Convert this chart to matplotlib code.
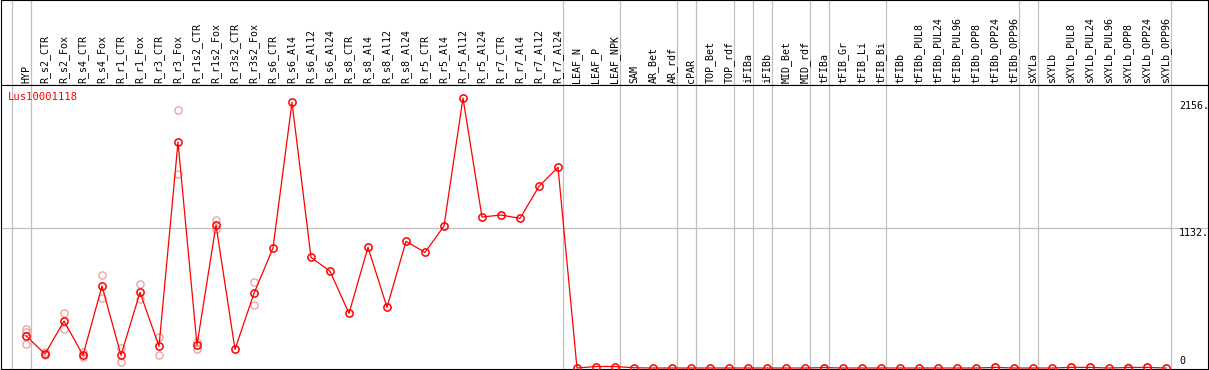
import matplotlib
matplotlib.use("Agg")
import matplotlib.pyplot as plt

# categories along the top
samples = ["HYP", "R_s2_CTR", "R_s2_Fox", "R_s4_CTR", "R_s4_Fox", "R_r1_CTR", "R_r1_Fox",
           "R_r3_CTR", "R_r3_Fox", "R_r1s2_CTR", "R_r1s2_Fox", "R_r3s2_CTR", "R_r3s2_Fox",
           "R_s6_CTR", "R_s6_Al4", "R_s6_Al12", "R_s6_Al24", "R_s8_CTR", "R_s8_Al4",
           "R_s8_Al12", "R_s8_Al24", "R_r5_CTR", "R_r5_Al4", "R_r5_Al12", "R_r5_Al24",
           "R_r7_CTR", "R_r7_Al4", "R_r7_Al12", "R_r7_Al24", "LEAF_N", "LEAF_P", "LEAF_NPK",
           "SAM", "AR_Bet", "AR_rdf", "cPAR", "TOP_Bet", "TOP_rdf", "iFIBa", "iFIBb",
           "MID_Bet", "MID_rdf", "tFIBa", "tFIB_Gr", "tFIB_Li", "tFIB_Bi", "tFIBb",
           "tFIBb_PUL8", "tFIBb_PUL24", "tFIBb_PUL96", "tFIBb_OPP8", "tFIBb_OPP24",
           "tFIBb_OPP96", "sXYLa", "sXYLb", "sXYLb_PUL8", "sXYLb_PUL24", "sXYLb_PUL96",
           "sXYLb_OPP8", "sXYLb_OPP24", "sXYLb_OPP96"]

# mean expression
means = [261, 113, 380, 103, 663, 103, 612, 175, 1827, 186, 1156, 151, 604,
         970, 2148, 895, 782, 442, 976, 491, 1024, 935, 1148, 2183, 1221,
         1237, 1210, 1469, 1623, 0, 12, 12, 2, 0, 0, 0, 0, 0, 0, 0,
         0, 0, 3, 0, 0, 0, 0, 0, 0, 0, 0, 5, 0, 0, 0, 5, 5, 0, 4, 5, 0]

# individual replicates (only where they show)
replicates = {0: [313, 291, 192], 1: [129, 105], 2: [445, 313], 3: [129, 91],
              4: [752, 568], 5: [164, 51], 6: [679, 558], 7: [251, 103],
              8: [2084, 1566], 9: [213, 151], 10: [1194, 1124], 12: [695, 507],
              42: [4], 51: [6], 55: [6], 56: [6], 58: [5], 59: [6]}

# group separators drawn just after these sample indices
group_ends = [-1, 0, 28, 31, 34, 35, 37, 38, 39, 41, 42, 45, 52, 53, 60]

gene = "Lus10001118"
ytick_vals = [2156, 1132, 0]

W, H = 1209, 370
fig = plt.figure(figsize=(W / 100, H / 100), dpi=100)
left, width = 1 / W, 1207 / W
hdr = fig.add_axes([left, (H - 85) / H, width, 85 / H])
ax = fig.add_axes([left, 1 / H, width, 284 / H])

xlo, xhi = (1 - 26) / 19, (1208 - 26) / 19
k = 8.086  # value units per pixel
for a in (hdr, ax):
    a.set_xlim(xlo, xhi)
    a.set_xticks([])
    a.set_yticks([])
    for s in a.spines.values():
        s.set_linewidth(0.8)
        s.set_color("black")
    for g in group_ends:
        a.axvline(g + 0.24, color="#c0c0c0", lw=0.9, zorder=0)

hdr.set_ylim(0, 1)
mono = "DejaVu Sans Mono"
for i, name in enumerate(samples):
    hdr.text(i, 0.025, name, rotation=90, ha="center", va="bottom",
             fontsize=7.2, family=mono)

ax.set_ylim(-1 * k, 283 * k)
ax.axhline(1132, color="#c0c0c0", lw=0.9, zorder=0)

xs = list(range(len(samples)))
for i, reps in replicates.items():
    ax.plot([i] * len(reps), reps, "o", mfc="none", mec="#f09a9a", ms=5.2,
            mew=0.9, zorder=2)
ax.plot(xs, means, "-", color="red", lw=0.9, zorder=3)
ax.plot(xs, means, "o", mfc="none", mec="red", ms=5.2, mew=1.1, zorder=4)

ax.text((8 - 26) / 19, 2191, gene, color="red", fontsize=7.6, family=mono,
        ha="left", va="center")
xlab = (1179 - 26) / 19
ax.text(xlab, ytick_vals[0], f"{ytick_vals[0]}.", fontsize=7.2, family=mono,
        ha="left", va="top")
ax.text(xlab, ytick_vals[1], f"{ytick_vals[1]}.", fontsize=7.2, family=mono,
        ha="left", va="top")
ax.text(xlab, ytick_vals[2] + 1.5 * k, f"{ytick_vals[2]}", fontsize=7.2, family=mono,
        ha="left", va="bottom")

fig.savefig("out.png", dpi=100)
